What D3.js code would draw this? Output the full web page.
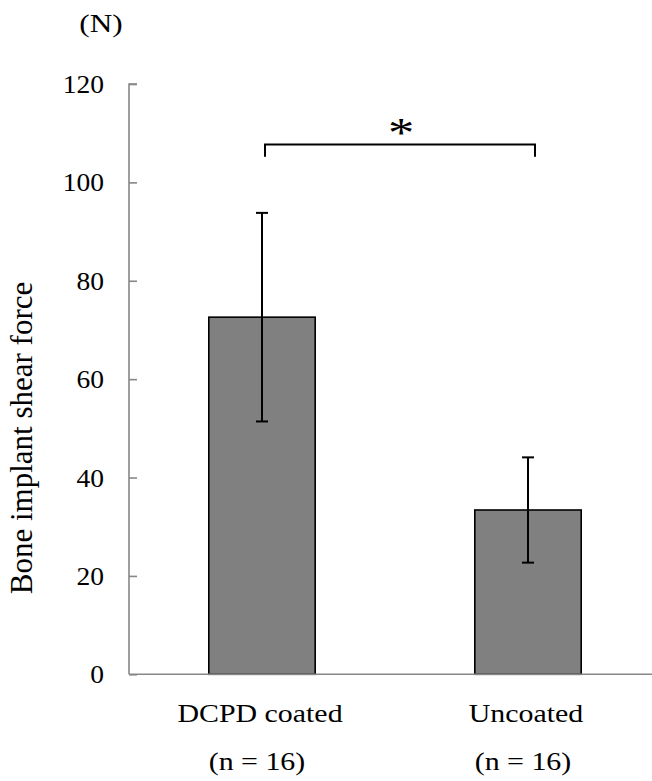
<!DOCTYPE html>
<html>
<head>
<meta charset="utf-8">
<script src="https://cdn.jsdelivr.net/npm/d3@7"></script>
<style>
  html, body { margin: 0; padding: 0; background: #fff; }
  svg { display: block; }
</style>
</head>
<body>
<svg id="chart" width="652" height="781"></svg>
<script>
// data
const groups = ["DCPD coated", "Uncoated"];
const groupN = ["(n = 16)", "(n = 16)"];
const means = [72.6, 33.4];
const sds = [21.2, 10.7];
const yTicks = [0, 20, 40, 60, 80, 100, 120];
const sigPair = ["DCPD coated", "Uncoated"];
const sigLevel = [107.7, 105.2]; // bracket top, bracket leg end
const sigMark = "*";

const W = 652, H = 781;
const svg = d3.select("#chart");
const serif = "'Liberation Serif', 'Times New Roman', serif";
const axisGray = "#878787";
const sx = 1.15; // the original figure is a bit wider than tall

const y = d3.scaleLinear().domain([0, 120]).range([674.3, 84]);
const x = d3.scaleBand().domain(groups).range([129, 661])
  .paddingInner(0.6).paddingOuter(0.3);
const cx = g => x(g) + x.bandwidth() / 2;

// bars
svg.append("g").selectAll("rect").data(groups).join("rect")
  .attr("x", d => x(d))
  .attr("y", (d, i) => y(means[i]))
  .attr("width", x.bandwidth())
  .attr("height", (d, i) => y(0) - y(means[i]))
  .attr("fill", "#808080")
  .attr("stroke", "#000").attr("stroke-width", 1.6);

// axes
const yAxis = svg.append("g").attr("transform", `translate(${x.range()[0]},0)`)
  .call(d3.axisRight(y).tickValues(yTicks).tickSize(8).tickFormat(""));
yAxis.select(".domain").attr("stroke", axisGray).attr("stroke-width", 1.6)
  .attr("d", `M8,${y(120)}H0V${y(0)}`);
yAxis.selectAll(".tick line").attr("stroke", axisGray).attr("stroke-width", 1.6);

svg.append("g").selectAll("text").data(yTicks).join("text")
  .attr("transform", d => `translate(104,${y(d) + 9}) scale(1.1,1)`)
  .attr("text-anchor", "end")
  .attr("font-family", serif).attr("font-size", 25)
  .text(d => d);

svg.append("line")
  .attr("x1", x.range()[0]).attr("x2", x.range()[1])
  .attr("y1", y(0)).attr("y2", y(0))
  .attr("stroke", axisGray).attr("stroke-width", 1.6);

// error bars (symmetric SD)
const eb = svg.append("g").attr("stroke", "#000").attr("stroke-width", 2);
groups.forEach((g, i) => {
  const hi = y(means[i] + sds[i]), lo = y(means[i] - sds[i]);
  eb.append("line").attr("x1", cx(g)).attr("x2", cx(g)).attr("y1", hi).attr("y2", lo);
  eb.append("line").attr("x1", cx(g) - 6).attr("x2", cx(g) + 6).attr("y1", hi).attr("y2", hi);
  eb.append("line").attr("x1", cx(g) - 6).attr("x2", cx(g) + 6).attr("y1", lo).attr("y2", lo);
});

// significance bracket
const bx1 = cx(sigPair[0]) + 3, bx2 = cx(sigPair[1]) + 7;
svg.append("path")
  .attr("d", `M${bx1},${y(sigLevel[1])}V${y(sigLevel[0])}H${bx2}V${y(sigLevel[1])}`)
  .attr("fill", "none").attr("stroke", "#000").attr("stroke-width", 2);
svg.append("text")
  .attr("transform", `translate(${(bx1 + bx2) / 2 + 1},${y(sigLevel[0]) + 2}) scale(1.25,1)`)
  .attr("text-anchor", "middle")
  .attr("font-family", serif).attr("font-size", 42)
  .text(sigMark);

// category labels
svg.append("g").selectAll("text").data(groups).join("text")
  .attr("transform", d => `translate(${cx(d) - 2},722) scale(${sx},1)`)
  .attr("text-anchor", "middle")
  .attr("font-family", serif).attr("font-size", 26)
  .text(d => d);
svg.append("g").selectAll("text").data(groupN).join("text")
  .attr("transform", (d, i) => `translate(${cx(groups[i]) - 5},770) scale(${sx},1)`)
  .attr("text-anchor", "middle")
  .attr("font-family", serif).attr("font-size", 26)
  .text(d => d);

// unit and axis title
svg.append("text")
  .attr("transform", "translate(101,32) scale(1.25,1)")
  .attr("text-anchor", "middle")
  .attr("font-family", serif).attr("font-size", 25)
  .text("(N)");
svg.append("text")
  .attr("transform", `translate(32,438) rotate(-90)`)
  .attr("text-anchor", "middle")
  .attr("font-family", serif).attr("font-size", 31)
  .text("Bone implant shear force");
</script>
</body>
</html>
